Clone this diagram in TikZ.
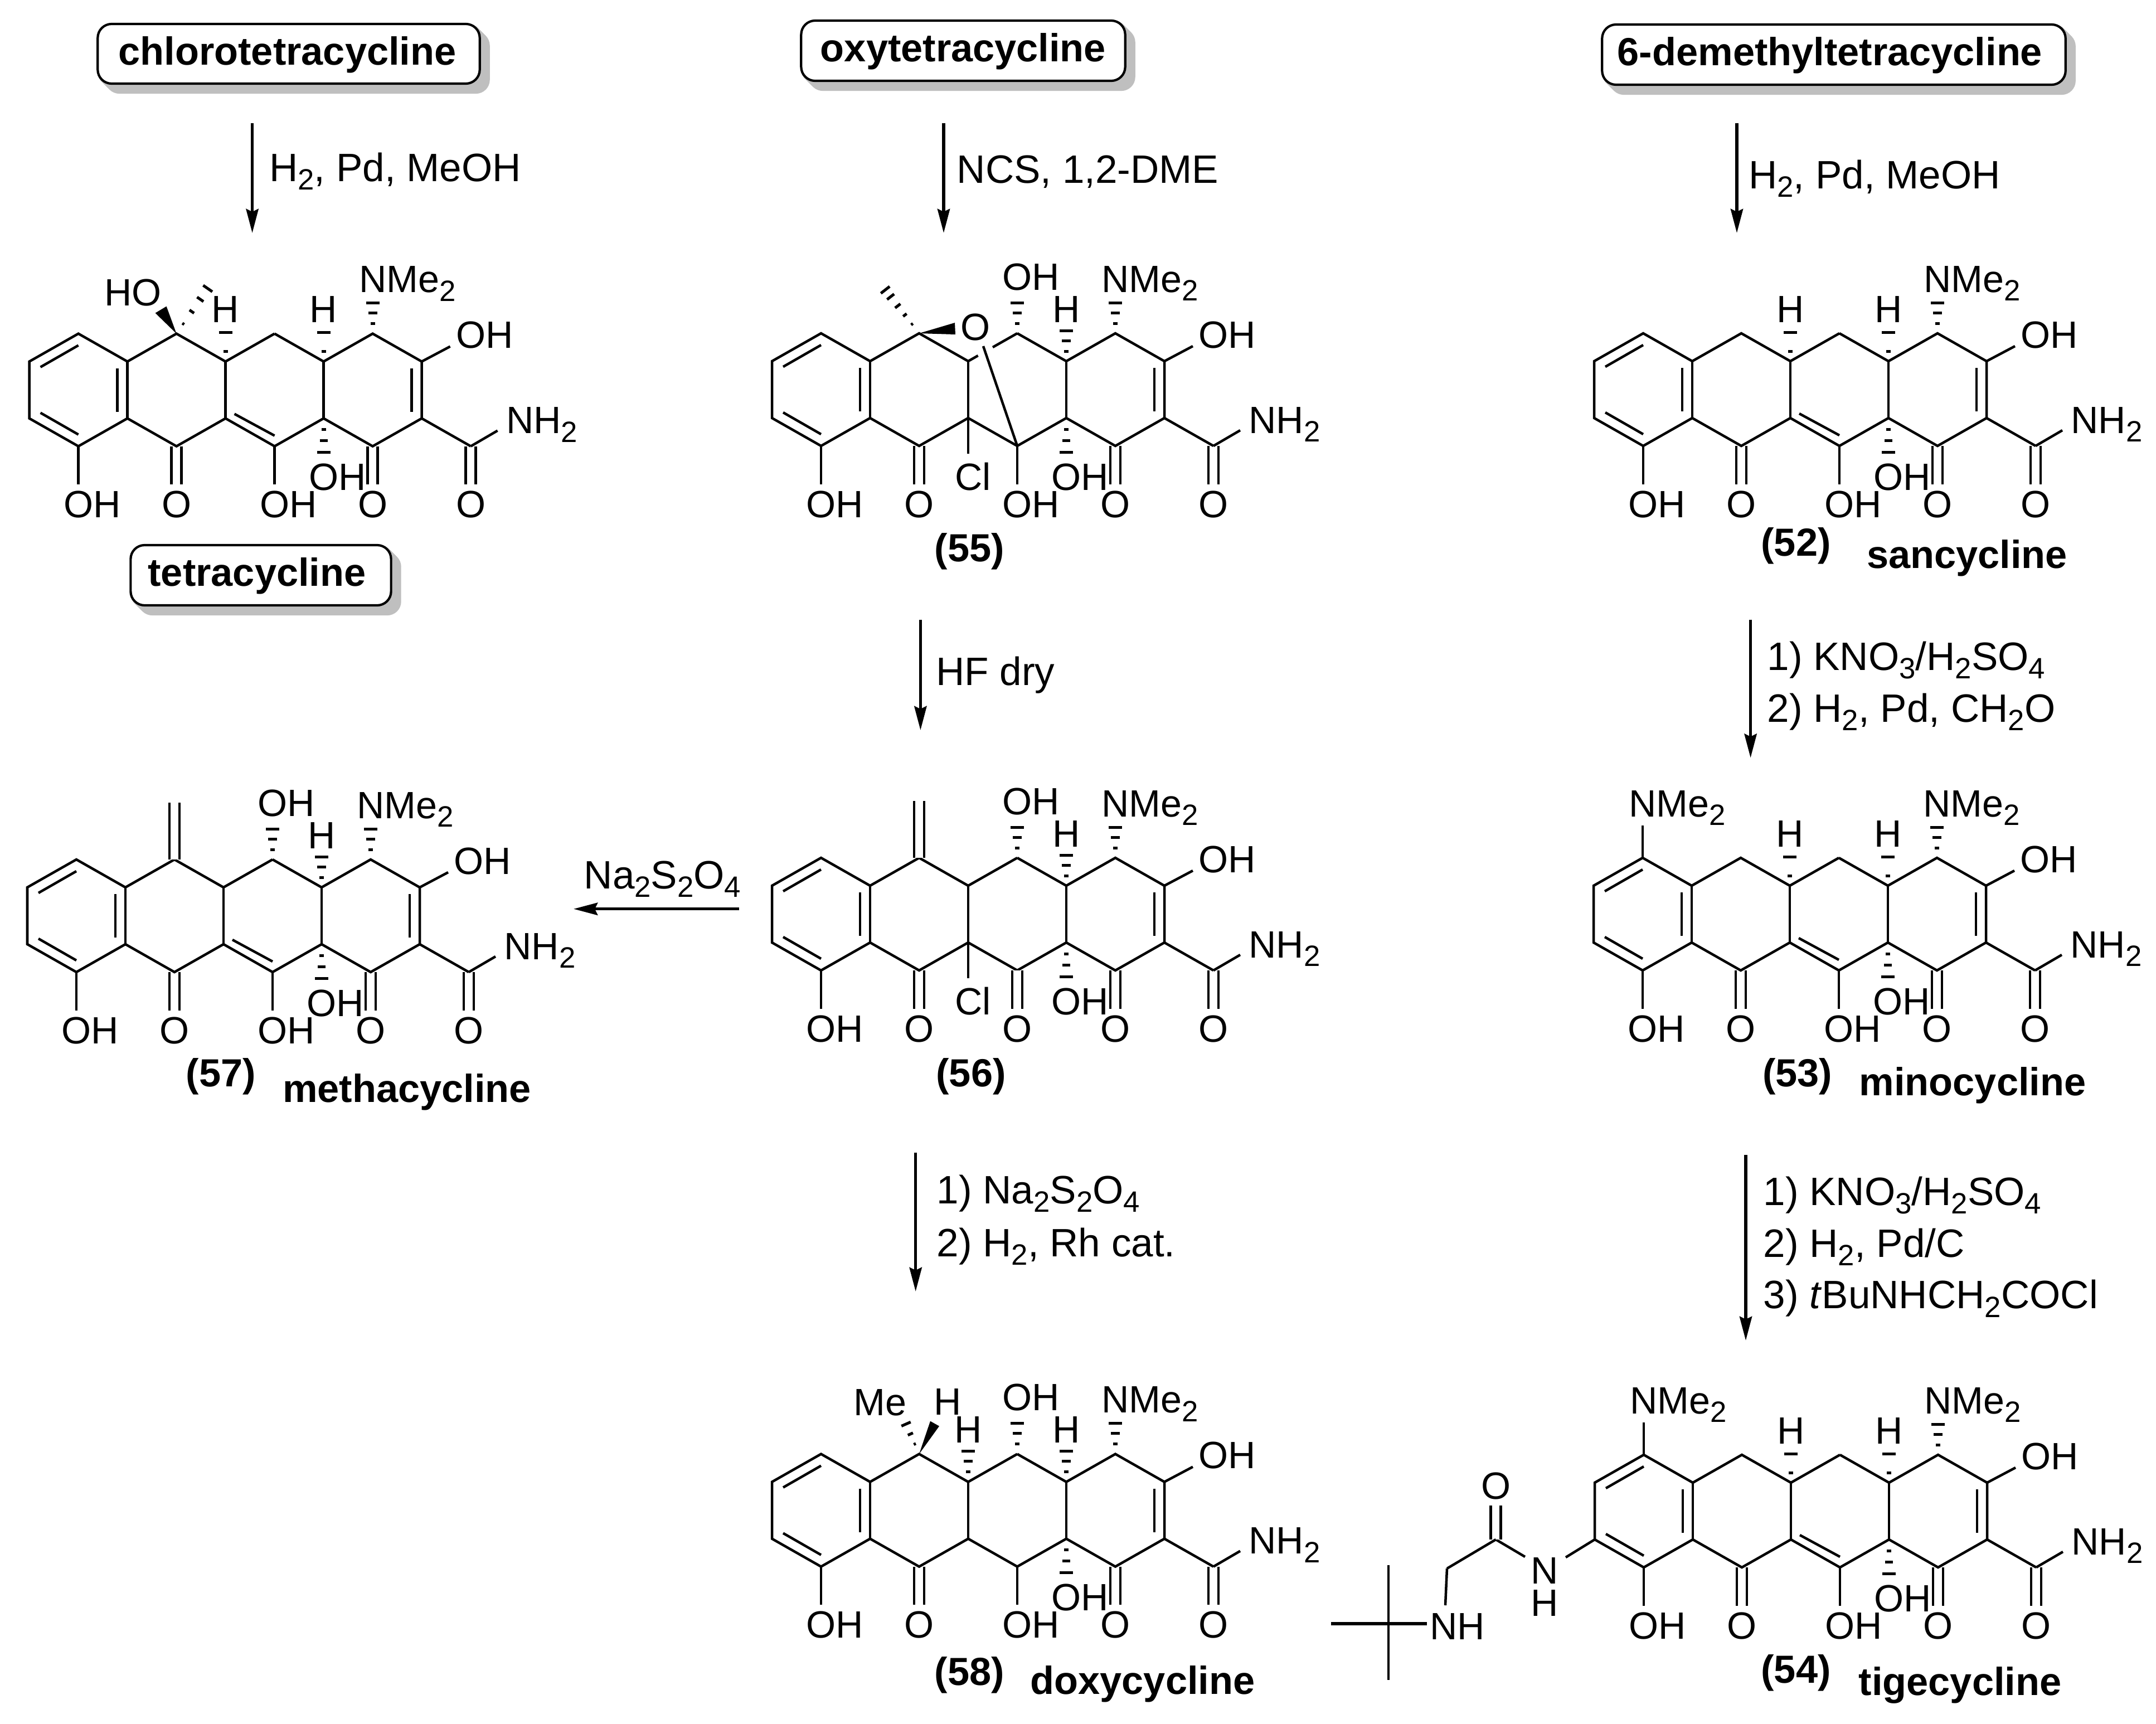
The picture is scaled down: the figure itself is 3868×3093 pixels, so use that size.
\documentclass[tikz,border=0pt]{standalone}
\usepackage{fontspec}
\setmainfont{Liberation Sans}
\usetikzlibrary{arrows.meta, calc, backgrounds}

\newcommand{\molfont}{\fontsize{19.4}{19.4}\selectfont}
\newcommand{\rgfont}{\fontsize{20.2}{20.2}\selectfont}
\newcommand{\boldfont}{\fontsize{20}{20}\selectfont\bfseries}
\newcommand{\subs}[1]{\raisebox{-0.155cm}{\fontsize{15}{15}\selectfont #1}}

\tikzset{
    bond/.style={line width=0.045cm},
    dbond/.style={line width=0.045cm, double, double distance=0.135cm},
    stub/.style={line width=0.045cm, shorten >=0.11cm},
    hash/.style={line width=0.05cm},
    atom/.style={inner sep=0pt, font=\molfont},
    reagent/.style={inner sep=0pt, anchor=base west, font=\rgfont},
    cpdnum/.style={inner sep=0pt, anchor=base, font=\boldfont},
    cpdname/.style={inner sep=0pt, anchor=base, font=\boldfont},
    namebox/.style={
           rectangle,
           rounded corners=0.25cm,
           draw=black, line width=0.042cm,
           fill=white,
           inner sep=0pt,
           anchor=base,
           font=\boldfont,
           },
    reaction/.style={->, >={Stealth[length=0.43cm, width=0.22cm, inset=0.05cm]}, line width=0.055cm},
}

\newcommand{\castshadow}[1]{%
  \begin{pgfonlayer}{background}
   \foreach \s in {2,4,...,16} {
    \fill[black!25, rounded corners=0.25cm] ($(#1.north west)+(\s,\s)$) rectangle ($(#1.south east)+(\s,\s)$);
   }
  \end{pgfonlayer}
}

\newcommand{\hashup}[1]{\foreach \d/\w in {18/4,37/8,55/12} {\draw[hash] ([shift={(-\w,-\d)}]#1) -- ([shift={(\w,-\d)}]#1);}}
\newcommand{\hashtwo}[1]{\foreach \d/\w in {18/4,52/12} {\draw[hash] ([shift={(-\w,-\d)}]#1) -- ([shift={(\w,-\d)}]#1);}}
\newcommand{\hashdown}[1]{\foreach \d/\w in {20/4,40/7,61/12} {\draw[hash] ([shift={(-\w,\d)}]#1) -- ([shift={(\w,\d)}]#1);}}
\newcommand{\hashdiag}[3]{\foreach \t/\h in {#3} {\draw[hash] ($(#1)!\t!(#2)!\h!90:(#2)$) -- ($(#1)!\t!(#2)!\h!-90:(#2)$);}}

% four rings and what all the compounds have in common
\newcommand{\tetracore}[1]{%
 \foreach \k in {1,3,5,7} {\coordinate (#1T\k) at ({\k*88},0);}
 \foreach \k in {0,2,4,6,8} {
  \coordinate (#1U\k) at ({\k*88},50);
  \coordinate (#1L\k) at ({\k*88},152);
 }
 \foreach \k in {1,3,5,7,9} {\coordinate (#1B\k) at ({\k*88},202);}

 \node[atom, anchor=base west] (#1OHA) at (61,330) {OH};
 \node[atom, anchor=base] (#1OC) at (264,330) {O};
 \node[atom, anchor=base] (#1OF) at (616,330) {O};
 \node[atom, anchor=base] (#1OG) at (792,330) {O};
 \node[atom, anchor=base west] (#1OHD) at (765,26) {OH};
 \node[atom, anchor=base west] (#1AMIDE) at (855,179) {NH\subs{2}};
 \node[atom, anchor=base west] (#1DIME) at ({7*88-25},-74) {NMe\subs{2}};
 \node[atom, anchor=base west] (#1OHC) at ({6*88-27},281) {OH};

 \draw[stub] (#1B1) -- (#1B1 |- #1OHA.north);
 \draw[dbond, shorten >=0.11cm] (#1B3) -- (#1OC.north);
 \draw[dbond, shorten >=0.11cm] (#1B7) -- (#1OF.north);
 \draw[dbond, shorten >=0.11cm] (#1B9) -- (#1OG.north);
 \draw[bond] (#1U8) -- ([shift={(-10,-3)}]#1OHD.base west);
 \draw[bond] (#1B9) -- ([shift={(-15,-5)}]#1AMIDE.base west);

 \draw[bond] (#1T5) -- (#1U6) -- (#1T7) -- (#1U8) -- (#1L8) -- (#1B7) -- (#1L6) -- (#1B5) -- (#1L4) -- (#1B3)
   -- (#1L2) -- (#1B1) -- (#1L0) -- (#1U0) -- (#1T1) -- (#1U2) -- (#1T3) -- (#1U4);
 \draw[bond] (#1U2) -- (#1L2);
 \draw[bond] (#1U4) -- (#1L4);
 \draw[bond] (#1U6) -- (#1L6);
 \draw[bond] (#1L8) -- (#1B9);
 \draw[bond] (20,60) -- (88,21);
 \draw[bond] (20,142) -- (88,181);
 \draw[bond] (158,62) -- (158,140);
 \draw[bond] (686,62) -- (686,140);

 \hashup{#1T7}
 \hashdown{#1L6}
}

\newcommand{\closering}[1]{\draw[bond] (#1U4) -- (#1T5);}
\newcommand{\cring}[1]{\draw[bond] (368,144) -- (440,183);}
\newcommand{\hydrogen}[2]{\node[atom, anchor=base] (#1H#2) at ({#2*88},-20) {H};}
\newcommand{\topOH}[1]{%
 \node[atom, anchor=base west] (#1OHB) at ({5*88-27},-78) {OH};
 \hashup{#1T5}
}
\newcommand{\bottomOH}[1]{%
 \node[atom, anchor=base west] (#1OHE) at ({5*88-27},330) {OH};
 \draw[stub] (#1B5) -- (#1B5 |- #1OHE.north);
}
\newcommand{\chloro}[1]{%
 \node[atom, anchor=base west] (#1CL) at (328,281) {Cl};
 \draw[bond] (#1L4) -- (352,216);
}
\newcommand{\methylene}[1]{%
 \coordinate (#1CH) at (264,-102);
 \draw[dbond] (#1T3) -- (#1CH);
}
\newcommand{\dimeA}[1]{%
 \node[atom, anchor=base west] (#1DIMEA) at (63,-74) {NMe\subs{2}};
 \draw[bond] (#1T1) -- (#1T1 |- #1DIMEA.south);
}

\begin{document}
\begin{tikzpicture}[x=0.01cm, y=-0.01cm]

 \useasboundingbox (0,0) rectangle (3868,3093);

 % tetracycline
 \begin{scope}[shift={(52.6,598.6)}]
  \tetracore{TC}
  \closering{TC}
  \cring{TC}
  \bottomOH{TC}
  \hydrogen{TC}{4}
  \hashtwo{TCU4}
  \hydrogen{TC}{6}
  \hashtwo{TCU6}
  \node[atom, anchor=base west] (TCHO) at (134,-50) {HO};
  \fill (TCT3) -- (226,-37) -- (246,-49) -- cycle;
  \coordinate (TCME) at (325,-88);
  \hashdiag{TCT3}{TCME}{.2/.02cm,.45/.05cm,.7/.07cm,.92/.1cm}
 \end{scope}

 % (55)
 \begin{scope}[shift={(1385,598)}]
  \tetracore{CF}
  \bottomOH{CF}
  \topOH{CF}
  \hydrogen{CF}{6}
  \hashup{CFU6}
  \chloro{CF}
  \node[atom, anchor=base] (CFO) at (365,12) {O};
  \fill (CFT3) -- (328,-19) -- (329,2) -- cycle;
  \coordinate (CFME) at (200,-82);
  \hashdiag{CFT3}{CFME}{.2/.02cm,.4/.04cm,.6/.06cm,.8/.08cm,.95/.1cm}
  \draw[bond] (CFU4) -- ($(CFU4)!.2!(CFT5)$);
  \draw[bond] ($(CFU4)!.5!(CFT5)$) -- (CFT5);
  \draw[bond] (CFB5) -- ([shift={(14,11)}]CFO.base);
 \end{scope}

 % (52)
 \begin{scope}[shift={(2860,598)}]
  \tetracore{SC}
  \closering{SC}
  \cring{SC}
  \bottomOH{SC}
  \hydrogen{SC}{4}
  \hashtwo{SCU4}
  \hydrogen{SC}{6}
  \hashtwo{SCU6}
 \end{scope}

 % (57)
 \begin{scope}[shift={(49,1542)}]
  \tetracore{MT}
  \closering{MT}
  \cring{MT}
  \bottomOH{MT}
  \topOH{MT}
  \hydrogen{MT}{6}
  \hashup{MTU6}
  \methylene{MT}
 \end{scope}

 % (56)
 \begin{scope}[shift={(1385,1539)}]
  \tetracore{CM}
  \closering{CM}
  \topOH{CM}
  \hydrogen{CM}{6}
  \hashup{CMU6}
  \methylene{CM}
  \chloro{CM}
  \node[atom, anchor=base] (CMOE) at (440,330) {O};
  \draw[dbond, shorten >=0.11cm] (CMB5) -- (CMOE.north);
 \end{scope}

 % (53)
 \begin{scope}[shift={(2859,1539)}]
  \tetracore{MC}
  \closering{MC}
  \cring{MC}
  \bottomOH{MC}
  \dimeA{MC}
  \hydrogen{MC}{4}
  \hashtwo{MCU4}
  \hydrogen{MC}{6}
  \hashtwo{MCU6}
 \end{scope}

 % (58)
 \begin{scope}[shift={(1385,2608.6)}]
  \tetracore{DC}
  \closering{DC}
  \bottomOH{DC}
  \topOH{DC}
  \hydrogen{DC}{4}
  \hashup{DCU4}
  \hydrogen{DC}{6}
  \hashup{DCU6}
  \node[atom, anchor=base west] (DCMEL) at (146,-69) {Me};
  \node[atom, anchor=base] (DCHW) at (315,-70) {H};
  \fill (DCT3) -- (284,-59) -- (300,-50) -- cycle;
  \coordinate (DCME) at (236,-64);
  \hashdiag{DCT3}{DCME}{.28/.02cm,.56/.05cm,.84/.09cm}
 \end{scope}

 % (54)
 \begin{scope}[shift={(2861,2610)}]
  \tetracore{TG}
  \closering{TG}
  \cring{TG}
  \bottomOH{TG}
  \dimeA{TG}
  \hydrogen{TG}{4}
  \hashtwo{TGU4}
  \hydrogen{TG}{6}
  \hashtwo{TGU6}
  \coordinate (TGCO) at (-177.4,152);
  \coordinate (TGCH) at (-265,204);
  \coordinate (TGTB) at (-370,303);
  \coordinate (TGTL) at (-473,303);
  \coordinate (TGTU) at (-370,198);
  \coordinate (TGTD) at (-370,404);
  \node[atom, anchor=base] (TGN) at (-90,231) {N};
  \node[atom, anchor=base] (TGNH) at (-90,289) {H};
  \node[atom, anchor=base] (TGOX) at (-177.4,79) {O};
  \node[atom, anchor=base west] (TGAM) at (-296,331) {NH};
  \draw[bond] (TGL0) -- ([shift={(38,-47)}]TGN.base);
  \draw[bond] (TGCO) -- ([shift={(-35,-48)}]TGN.base);
  \draw[dbond, shorten >=0.11cm] (TGCO) -- (TGOX.south);
  \draw[bond] (TGCO) -- (TGCH);
  \draw[bond] (TGCH) -- ([shift={(28,-61)}]TGAM.base west);
  \draw[line width=0.055cm, shorten >=0.05cm] (TGTL) -- (TGAM.west |- TGTL);
  \draw[bond] (TGTU) -- (TGTD);
 \end{scope}

 % boxes
 \node[namebox, minimum width=6.85cm, text height=0.73cm, text depth=0.34cm] (CHLORO) at (518,116)
 {%
  chlorotetracycline\kern0.05cm
 };
 \node[namebox, minimum width=4.67cm, text height=0.73cm, text depth=0.35cm] (TETRA) at (468,1051)
 {%
  tetracycline\kern0.14cm
 };
 \node[namebox, minimum width=5.81cm, text height=0.73cm, text depth=0.35cm] (OXY) at (1728,110)
 {%
  oxytetracycline
 };
 \node[namebox, minimum width=8.31cm, text height=0.73cm, text depth=0.35cm] (DEMETHYL) at (3290,117)
 {%
  6-demethyltetracycline\kern0.14cm
 };
 \castshadow{CHLORO}
 \castshadow{TETRA}
 \castshadow{OXY}
 \castshadow{DEMETHYL}

 % compound labels
 \node[cpdnum] (N55) at (1739.5,1007) {(55)};
 \node[cpdnum] (N52) at (3222,997) {(52)};
 \node[cpdname] (SANCY) at (3529,1019) {sancycline};
 \node[cpdnum] (N57) at (396.5,1949) {(57)};
 \node[cpdname] (METHA) at (730,1977) {methacycline};
 \node[cpdnum] (N56) at (1742,1949) {(56)};
 \node[cpdnum] (N53) at (3224.7,1949) {(53)};
 \node[cpdname] (MINO) at (3539,1965) {minocycline};
 \node[cpdnum] (N58) at (1739.5,3023) {(58)};
 \node[cpdname] (DOXY) at (2050,3039) {doxycycline};
 \node[cpdnum] (N54) at (3222,3019) {(54)};
 \node[cpdname] (TIGE) at (3516.5,3041) {tigecycline};

 % reagents
 \node[reagent] (RA) at (482.5,325) {H\subs{2}, Pd, MeOH};
 \node[reagent] (RB) at (1716,328) {NCS, 1,2-DME};
 \node[reagent] (RC) at (3136.4,338) {H\subs{2}, Pd, MeOH};
 \node[reagent] (RD) at (1678.5,1229) {HF dry};
 \node[reagent] (RE) at (1047,1594) {Na\subs{2}S\subs{2}O\subs{4}};
 \node[reagent] (RF1) at (1680,2159) {1) Na\subs{2}S\subs{2}O\subs{4}};
 \node[reagent] (RF2) at (1680,2254) {2) H\subs{2}, Rh cat.};
 \node[reagent] (RG1) at (3170,1202) {1) KNO\subs{3}/H\subs{2}SO\subs{4}};
 \node[reagent] (RG2) at (3170,1295) {2) H\subs{2}, Pd, CH\subs{2}O};
 \node[reagent] (RH1) at (3163,2162) {1) KNO\subs{3}/H\subs{2}SO\subs{4}};
 \node[reagent] (RH2) at (3163,2255) {2) H\subs{2}, Pd/C};
 \node[reagent] (RH3) at (3163,2347.5) {3) \textit{t}BuNHCH\subs{2}COCl};

 % arrows
 \coordinate (AS) at (452.6,221);
 \coordinate (AE) at (452.6,418);
 \coordinate (BS) at (1693,221);
 \coordinate (BE) at (1693,418);
 \coordinate (CS) at (3116,221);
 \coordinate (CE) at (3116,418);
 \coordinate (DS) at (1651.4,1112);
 \coordinate (DE) at (1651.4,1310);
 \coordinate (ES) at (1326,1630.7);
 \coordinate (EE) at (1029,1630.7);
 \coordinate (FS) at (1642.7,2067.6);
 \coordinate (FE) at (1642.7,2317);
 \coordinate (GS) at (3140.6,1111.5);
 \coordinate (GE) at (3140.6,1359.6);
 \coordinate (HS) at (3132,2072);
 \coordinate (HE) at (3132,2405);

 \path[reaction] (AS) edge (AE);
 \path[reaction] (BS) edge (BE);
 \path[reaction] (CS) edge (CE);
 \path[reaction] (DS) edge (DE);
 \path[reaction] (ES) edge (EE);
 \path[reaction] (FS) edge (FE);
 \path[reaction] (GS) edge (GE);
 \path[reaction] (HS) edge (HE);

\end{tikzpicture}
\end{document}
